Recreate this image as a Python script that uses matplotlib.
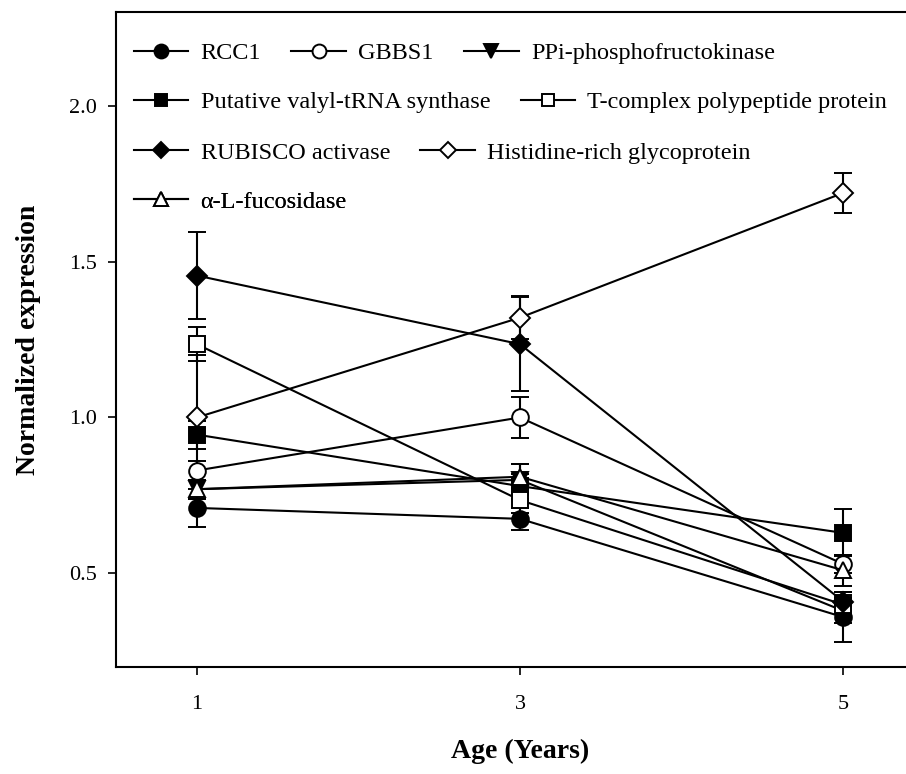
import numpy as np
import matplotlib.pyplot as plt
from matplotlib.lines import Line2D

plt.rcParams['font.family'] = ['Liberation Serif', 'DejaVu Serif']
plt.rcParams['mathtext.fontset'] = 'stix'

ages = [1, 3, 5]

names = ['RCC1', 'GBBS1', 'PPi-phosphofructokinase',
         'Putative valyl-tRNA synthase', 'T-complex polypeptide protein',
         'RUBISCO activase', 'Histidine-rich glycoprotein',
         '\u03b1-L-fucosidase']

rcc1 = [0.71, 0.675, 0.36]
gbbs1 = [0.83, 1.00, 0.53]
ppi = [0.77, 0.80, 0.38]
valyl = [0.945, 0.78, 0.63]
tcomplex = [1.235, 0.735, 0.40]
rubisco = [1.455, 1.235, 0.41]
histidine = [1.00, 1.32, 1.72]
fucosidase = [0.77, 0.81, 0.51]

rcc1_err = [0.06, 0.035, 0.08]
gbbs1_err = [0.03, 0.065, 0.03]
ppi_err = [0.03, 0.05, 0.04]
valyl_err = [0.045, 0.04, 0.075]
tcomplex_err = [0.055, 0.04, 0.03]
rubisco_err = [0.14, 0.15, 0.03]
histidine_err = [0.20, 0.07, 0.065]
fucosidase_err = [0.03, 0.04, 0.05]

values = [rcc1, gbbs1, ppi, valyl, tcomplex, rubisco, histidine, fucosidase]
errors = [rcc1_err, gbbs1_err, ppi_err, valyl_err, tcomplex_err,
          rubisco_err, histidine_err, fucosidase_err]
markers = ['o', 'o', 'v', 's', 's', 'D', 'D', '^']
fills = ['black', 'white', 'black', 'black', 'white', 'black', 'white', 'white']
sizes = [12, 12, 12, 11, 11, 10.5, 10.5, 12]

fig = plt.figure(figsize=(9.06, 7.74), dpi=100)
ax = fig.add_axes([116 / 906, 107 / 774, 808 / 906, 655 / 774])

for v, e, m, fc, ms in zip(values, errors, markers, fills, sizes):
    ax.errorbar(ages, v, yerr=e, color='black', marker=m, markersize=ms,
                markerfacecolor=fc, markeredgecolor='black', markeredgewidth=1.4,
                linewidth=1.5, elinewidth=1.5, capsize=6.5, capthick=1.5)

ax.set_xlim(0.5, 5.5)
ax.set_ylim(0.2, 2.3)
ax.set_xticks(ages)
ax.set_yticks([0.5, 1.0, 1.5, 2.0])
ax.set_yticklabels(['0.5', '1.0', '1.5', '2.0'])
ax.tick_params(direction='out', length=6, width=1.2, labelsize=16)
ax.tick_params(axis='x', pad=14)
ax.tick_params(axis='y', pad=8)
for s in ax.spines.values():
    s.set_linewidth(1.5)

ax.set_xlabel('Age (Years)', fontsize=20, fontweight='bold', labelpad=18)
ax.set_ylabel('Normalized expression', fontsize=20, fontweight='bold', labelpad=20)

handles = []
for n, m, fc, ms in zip(names, markers, fills, sizes):
    handles.append(Line2D([], [], color='black', marker=m, markersize=ms - 2,
                          markerfacecolor=fc, markeredgecolor='black',
                          markeredgewidth=1.4, linewidth=1.5, label=n))

rows = [[0, 1, 2], [3, 4], [5, 6], [7]]
row_y = [0.937, 0.862, 0.785, 0.710]
for idx, y in zip(rows, row_y):
    leg = ax.legend(handles=[handles[i] for i in idx], ncol=len(idx),
                    loc='center left', bbox_to_anchor=(0.022, y),
                    frameon=False, fontsize=17.5, handlelength=2.25,
                    handletextpad=0.5, columnspacing=1.25, borderpad=0,
                    borderaxespad=0)
    ax.add_artist(leg)

fig.savefig('out.png', dpi=100)
